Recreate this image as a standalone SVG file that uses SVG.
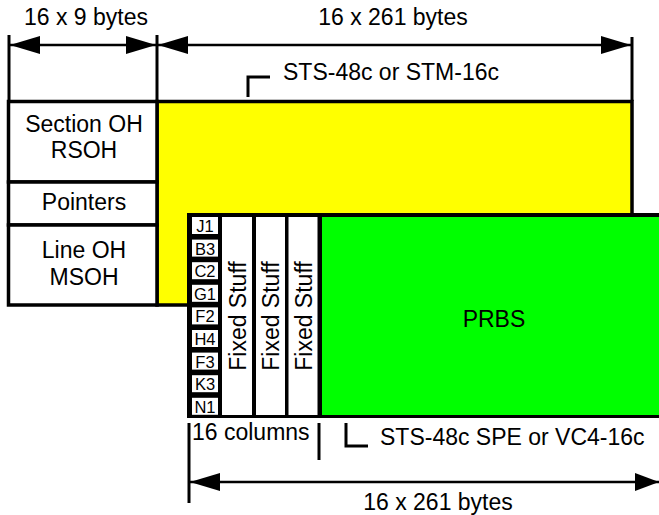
<svg xmlns="http://www.w3.org/2000/svg" width="659" height="515" viewBox="0 0 659 515">
<style>
text{font-family:"Liberation Sans",Arial,sans-serif;font-size:23px;fill:#000}
.sm{font-size:16.5px}
.box{fill:#fff;stroke:#000;stroke-width:3.5}
.ln{stroke:#000;stroke-width:2.5;fill:none}
.tk{stroke:#000;stroke-width:3;fill:none}
.ah{fill:#000}
.m{text-anchor:middle}
</style>
<rect width="659" height="515" fill="#fff"/>
<g id="frame">
<rect x="157" y="101.5" width="475" height="203.5" fill="#ffff00" stroke="#000" stroke-width="3.5"/>
</g>
<g id="left-column">
<rect class="box" x="8.5" y="101.5" width="148.5" height="80.5"/>
<rect class="box" x="8.5" y="182" width="148.5" height="43"/>
<rect class="box" x="8.5" y="225" width="148.5" height="80"/>
<text class="m" x="84" y="132">Section OH</text>
<text class="m" x="84" y="158">RSOH</text>
<text class="m" x="84" y="210">Pointers</text>
<text class="m" x="84" y="258">Line OH</text>
<text class="m" x="84" y="285">MSOH</text>
</g>
<g id="spe">
<rect x="187" y="213" width="480" height="205" fill="#000"/>
<g fill="#fff">
<rect x="192" y="217" width="26" height="17"/>
<rect x="192" y="239.6" width="26" height="17"/>
<rect x="192" y="262.2" width="26" height="17"/>
<rect x="192" y="284.8" width="26" height="17"/>
<rect x="192" y="307.4" width="26" height="17"/>
<rect x="192" y="330" width="26" height="17"/>
<rect x="192" y="352.6" width="26" height="17"/>
<rect x="192" y="375.2" width="26" height="17"/>
<rect x="192" y="397.8" width="26" height="17"/>
<rect x="222" y="217" width="30" height="198"/>
<rect x="256" y="217" width="29" height="198"/>
<rect x="288.5" y="217" width="29" height="198"/>
</g>
<rect x="322" y="217" width="340" height="198" fill="#00ff00"/>
<text class="sm m" x="205" y="232">J1</text>
<text class="sm m" x="205" y="254.6">B3</text>
<text class="sm m" x="205" y="277.2">C2</text>
<text class="sm m" x="205" y="299.8">G1</text>
<text class="sm m" x="205" y="322.4">F2</text>
<text class="sm m" x="205" y="345">H4</text>
<text class="sm m" x="205" y="367.6">F3</text>
<text class="sm m" x="205" y="390.2">K3</text>
<text class="sm m" x="205" y="412.8">N1</text>
<text class="m" x="246" y="316" transform="rotate(-90 246 316)">Fixed Stuff</text>
<text class="m" x="279" y="316" transform="rotate(-90 279 316)">Fixed Stuff</text>
<text class="m" x="312" y="316" transform="rotate(-90 312 316)">Fixed Stuff</text>
<text class="m" x="494" y="327">PRBS</text>
</g>
<g id="connectors">
<line class="tk" x1="9" y1="35" x2="9" y2="101"/>
<line class="tk" x1="157" y1="35" x2="157" y2="101"/>
<line class="tk" x1="632" y1="37" x2="632" y2="101"/>
<line class="ln" x1="10" y1="45" x2="632" y2="45"/>
<polygon class="ah" points="10,45 40,36 40,54"/>
<polygon class="ah" points="156,45 126,36 126,54"/>
<polygon class="ah" points="158,45 188,36 188,54"/>
<polygon class="ah" points="631,45 601,36 601,54"/>
<polyline class="tk" points="248,97 248,77 270,77"/>
<line class="tk" x1="189" y1="423" x2="189" y2="503"/>
<line class="tk" x1="319" y1="423" x2="319" y2="460"/>
<polyline class="tk" points="346,423 346,446 368,446"/>
<line class="ln" x1="190" y1="482" x2="659" y2="482"/>
<polygon class="ah" points="190,482 220,473 220,491"/>
<polygon class="ah" points="659,482 635,473 635,491"/>
</g>
<g id="labels">
<text class="m" x="86" y="25">16 x 9 bytes</text>
<text class="m" x="393" y="25">16 x 261 bytes</text>
<text x="283" y="80">STS-48c or STM-16c</text>
<text x="192" y="440">16 columns</text>
<text x="380" y="445">STS-48c SPE or VC4-16c</text>
<text class="m" x="438" y="510">16 x 261 bytes</text>
</g>
</svg>
